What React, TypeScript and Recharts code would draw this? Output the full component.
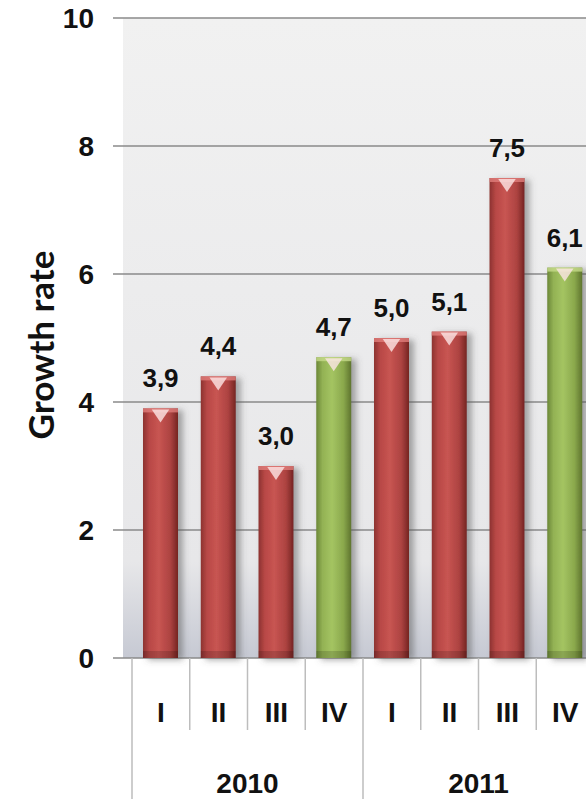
import { Bar, BarChart, CartesianGrid, Cell, LabelList, XAxis, YAxis } from "recharts";

const quarters = ["I", "II", "III", "IV", "I", "II", "III", "IV"];
const years = ["2010", "2010", "2010", "2010", "2011", "2011", "2011", "2011"];
const growthRate = [3.9, 4.4, 3.0, 4.7, 5.0, 5.1, 7.5, 6.1];
const yTicks = [0, 2, 4, 6, 8, 10];

const data = quarters.map((q, i) => ({
  key: `${years[i]}-${q}`,
  quarter: q,
  year: years[i],
  value: growthRate[i],
}));

const CHART_W = 594;
const CHART_H = 799;
const AXIS_W = 123;
const PAD_LEFT = 9;
const X_AXIS_H = 141;
const BAND = (CHART_W - AXIS_W - PAD_LEFT) / data.length;
const FONT = "'Liberation Sans', Arial, sans-serif";

function GlassBar(props: any) {
  const { x, y, width, height, payload } = props;
  if (!height || height <= 0) return null;
  const green = payload.quarter === "IV";
  const tri = Math.min(14, height);
  return (
    <g filter="url(#barShadow)">
      <rect x={x} y={y} width={width} height={height} fill={green ? "url(#barGreen)" : "url(#barRed)"} />
      <rect x={x} y={y} width={width} height={4} fill={green ? "#c5db8a" : "#e07d7b"} opacity={0.8} />
      <polygon
        points={`${x + width * 0.25},${y + 1} ${x + width * 0.75},${y + 1} ${x + width / 2},${y + tri}`}
        fill="#fde6e6"
        opacity={0.8}
      />
      <rect x={x} y={y + height - 7} width={width} height={7} fill="#000" opacity={0.15} />
    </g>
  );
}

function QuarterTick(props: any) {
  const { x, y, index } = props;
  const left = x - BAND / 2;
  const yearStart = index === 0 || years[index] !== years[index - 1];
  return (
    <g>
      <line x1={left} y1={y} x2={left} y2={y + (yearStart ? X_AXIS_H : 72)} stroke="#bdbdbd" strokeWidth={1.5} />
      <text x={x} y={y + 54} dy="0.35em" textAnchor="middle" fontFamily={FONT} fontWeight="bold" fontSize={28} fill="#111">
        {quarters[index]}
      </text>
      {yearStart && (
        <text
          x={left + 2 * BAND}
          y={y + 125}
          dy="0.35em"
          textAnchor="middle"
          fontFamily={FONT}
          fontWeight="bold"
          fontSize={28}
          fill="#111"
        >
          {years[index]}
        </text>
      )}
    </g>
  );
}

export default function App() {
  return (
    <div
      style={{
        position: "fixed",
        left: 0,
        top: 0,
        width: 586,
        height: 799,
        overflow: "hidden",
        background: "#fff",
      }}
    >
      <BarChart width={CHART_W} height={CHART_H} data={data} margin={{ top: 18, right: 0, left: 0, bottom: 0 }} barSize={35}>
        <defs>
          <linearGradient id="plotBg" x1="0" y1="0" x2="0" y2="1">
            <stop offset="0" stopColor="#f1f1f1" />
            <stop offset="0.85" stopColor="#e7e7e9" />
            <stop offset="1" stopColor="#c6c9d3" />
          </linearGradient>
          <linearGradient id="barRed" x1="0" y1="0" x2="1" y2="0">
            <stop offset="0" stopColor="#8c3230" />
            <stop offset="0.18" stopColor="#b84846" />
            <stop offset="0.45" stopColor="#c85552" />
            <stop offset="0.78" stopColor="#ad4341" />
            <stop offset="1" stopColor="#752422" />
          </linearGradient>
          <linearGradient id="barGreen" x1="0" y1="0" x2="1" y2="0">
            <stop offset="0" stopColor="#6b8738" />
            <stop offset="0.18" stopColor="#93b254" />
            <stop offset="0.45" stopColor="#a4c462" />
            <stop offset="0.78" stopColor="#8aa84c" />
            <stop offset="1" stopColor="#5e742d" />
          </linearGradient>
          <filter id="barShadow" x="-30%" y="-10%" width="170%" height="120%">
            <feDropShadow dx="5" dy="2" stdDeviation="3" floodColor="#555" floodOpacity="0.5" />
          </filter>
        </defs>
        <CartesianGrid vertical={false} stroke="#8a8a8a" strokeWidth={1.5} fill="url(#plotBg)" fillOpacity={1} />
        <XAxis
          dataKey="key"
          interval={0}
          axisLine={false}
          tickLine={false}
          tickSize={0}
          tickMargin={0}
          height={X_AXIS_H}
          padding={{ left: PAD_LEFT, right: 0 }}
          tick={<QuarterTick />}
        />
        <YAxis
          width={AXIS_W}
          domain={[0, 10]}
          ticks={yTicks}
          axisLine={false}
          tickSize={10}
          tickMargin={19}
          tickLine={{ stroke: "#8a8a8a", strokeWidth: 1.5 }}
          tick={{ fontFamily: FONT, fontWeight: "bold", fontSize: 28, fill: "#111" }}
          label={() => (
            <text
              x={40}
              y={345}
              transform="rotate(-90, 40, 345)"
              textAnchor="middle"
              dominantBaseline="central"
              fontFamily="Lato, sans-serif"
              fontWeight="bold"
              fontSize={35}
              fill="#111"
            >
              Growth rate
            </text>
          )}
        />
        <Bar dataKey="value" isAnimationActive={false} shape={<GlassBar />}>
          {data.map((d) => (
            <Cell key={d.key} />
          ))}
          <LabelList
            dataKey="value"
            position="top"
            offset={21}
            formatter={(v: any) => Number(v).toFixed(1).replace(".", ",")}
            style={{ fontFamily: FONT, fontWeight: "bold", fontSize: 26, fill: "#111" }}
          />
        </Bar>
      </BarChart>
    </div>
  );
}
